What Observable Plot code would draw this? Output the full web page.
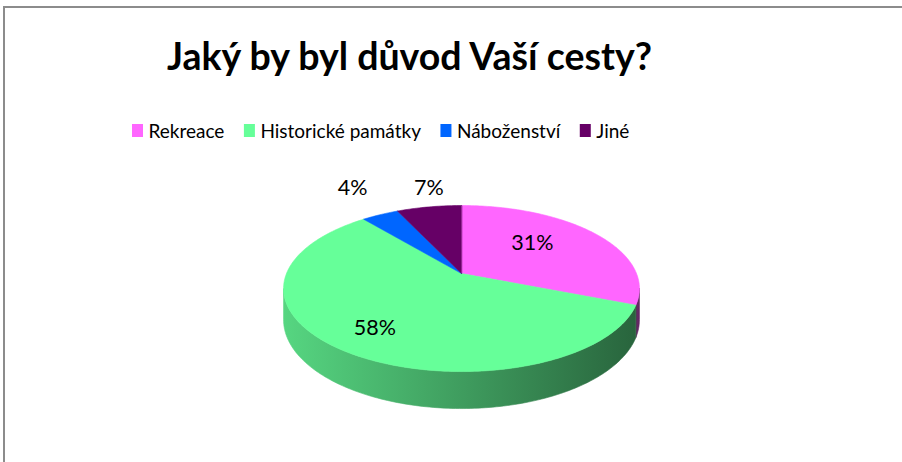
<!DOCTYPE html>
<html><head><meta charset="utf-8">
<script src="https://cdn.jsdelivr.net/npm/d3@7"></script>
<script src="https://cdn.jsdelivr.net/npm/@observablehq/plot@0.6"></script>
<style>
body{margin:0;background:#fff;}
#wrap{position:relative;width:902px;height:462px;overflow:hidden;background:#fff;}
#wrap svg{position:absolute;left:0;top:0;}
#frame{position:absolute;left:3px;top:6px;width:920px;height:480px;border-top:2px solid #8c8c8c;border-left:2px solid #8c8c8c;pointer-events:none;}
</style></head><body><div id="wrap"></div>
<script>
// ---- data ----
const title = "Jaký by byl důvod Vaší cesty?";
const categories = ["Rekreace", "Historické památky", "Náboženství", "Jiné"];
const values = [31, 58, 4, 7];
const labels = ["31%", "58%", "4%", "7%"];
const colors = ["#FF66FF", "#66FF99", "#0066FF", "#660066"];

// ---- layout ----
const W = 902, H = 462;
const pie = {cx: 461, cy: 273, sx: 175, sy: 80.3, p: 0.181, depth: 30.3};
const labelRadius = [0.59, 0.75, 1.52, 1.33];
const labelAngleOffset = [-8.4, 0, 2, 2.6];
const font = "Lato, 'Open Sans', sans-serif";
const titleLayout = {x: 409, y: 57, size: 37.5};
const legendLayout = {x: 132, y: 137, size: 19, sq: 11, sqH: 13, pad: 5, gap: 20};
const labelSize = 21.5;

function proj(aDeg, r = 1, z = 0) {
  const t = aDeg * Math.PI / 180;
  const x = r * Math.sin(t), y = r * Math.cos(t);
  const w = 1 + pie.p * y;
  return [pie.cx + pie.sx * x / w, pie.cy + (-pie.sy * y + z * pie.depth) / w];
}
const total = d3.sum(values);
let acc = 0;
const slices = values.map((v, i) => {
  const a0 = acc / total * 360; acc += v; const a1 = acc / total * 360;
  return {i, a0, a1, mid: (a0 + a1) / 2};
});
function arc(a0, a1, r, z) {
  const n = Math.max(2, Math.ceil(Math.abs(a1 - a0)));
  return d3.range(n + 1).map(k => proj(a0 + (a1 - a0) * k / n, r, z));
}
const sil = 90 + Math.asin(pie.p) * 180 / Math.PI;
const visLo = sil, visHi = 360 - sil;
const sides = slices.map(s => {
  const lo = Math.max(s.a0, visLo), hi = Math.min(s.a1, visHi);
  if (hi <= lo) return null;
  return {i: s.i, pts: [...arc(lo, hi, 1, 0), ...arc(hi, lo, 1, 1)]};
}).filter(Boolean);
const tops = slices.map(s => ({i: s.i, pts: [proj(0, 0, 0), ...arc(s.a0, s.a1, 1, 0)]}));
const labelPos = s => proj(s.mid + labelAngleOffset[s.i], labelRadius[s.i]);

// legend layout from measured text widths
const ctx = document.createElement("canvas").getContext("2d");
ctx.font = `${legendLayout.size}px Lato`;
let lx = legendLayout.x;
const legendItems = categories.map((c, i) => {
  const item = {i, name: c, sx: lx, tx: lx + legendLayout.sq + legendLayout.pad};
  lx = item.tx + ctx.measureText(c).width + legendLayout.gap;
  return item;
});

const marks = [
  ...sides.map(s => Plot.line(s.pts, {x: d => d[0], y: d => d[1], curve: "linear-closed",
      fill: `url(#side${s.i})`, stroke: `url(#side${s.i})`, strokeWidth: 0.6})),
  ...tops.map(s => Plot.line(s.pts, {x: d => d[0], y: d => d[1], curve: "linear-closed",
      fill: colors[s.i], stroke: colors[s.i], strokeWidth: 0.6})),
  Plot.text(slices, {x: s => labelPos(s)[0], y: s => labelPos(s)[1],
      text: s => labels[s.i], fontSize: labelSize, fontFamily: font, fill: "#000"}),
  Plot.text([title], {x: () => titleLayout.x, y: () => titleLayout.y, text: d => d,
      fontSize: titleLayout.size, fontWeight: "bold", fontFamily: font, fill: "#000"}),
  Plot.rect(legendItems, {x1: d => d.sx, x2: d => d.sx + legendLayout.sq,
      y1: () => legendLayout.y - legendLayout.sqH, y2: () => legendLayout.y, fill: d => colors[d.i]}),
  Plot.text(legendItems, {x: d => d.tx, y: () => legendLayout.y - 0.32 * legendLayout.size, text: d => d.name,
      textAnchor: "start", fontSize: legendLayout.size, fontFamily: font, fill: "#000"})
];

const chart = Plot.plot({
  width: W, height: H, margin: 0,
  x: {domain: [0, W], range: [0, W], axis: null},
  y: {domain: [0, H], range: [0, H], axis: null},
  color: {type: "identity"},
  style: {background: "transparent", overflow: "visible"},
  marks
});

// side gradients
const defs = d3.select(chart).insert("defs", ":first-child");
slices.forEach(s => {
  const base = d3.rgb(colors[s.i]);
  const shade = f => d3.rgb(base.r * f, base.g * f, base.b * f).formatHex();
  const g = defs.append("linearGradient").attr("id", `side${s.i}`).attr("gradientUnits", "userSpaceOnUse")
    .attr("x1", pie.cx - pie.sx * 1.02).attr("x2", pie.cx + pie.sx * 1.02).attr("y1", 0).attr("y2", 0);
  g.append("stop").attr("offset", 0).attr("stop-color", shade(0.84));
  g.append("stop").attr("offset", 1).attr("stop-color", shade(0.39));
});

const wrap = document.getElementById("wrap");
wrap.appendChild(chart);
const frame = document.createElement("div"); frame.id = "frame"; wrap.appendChild(frame);
</script></body></html>
